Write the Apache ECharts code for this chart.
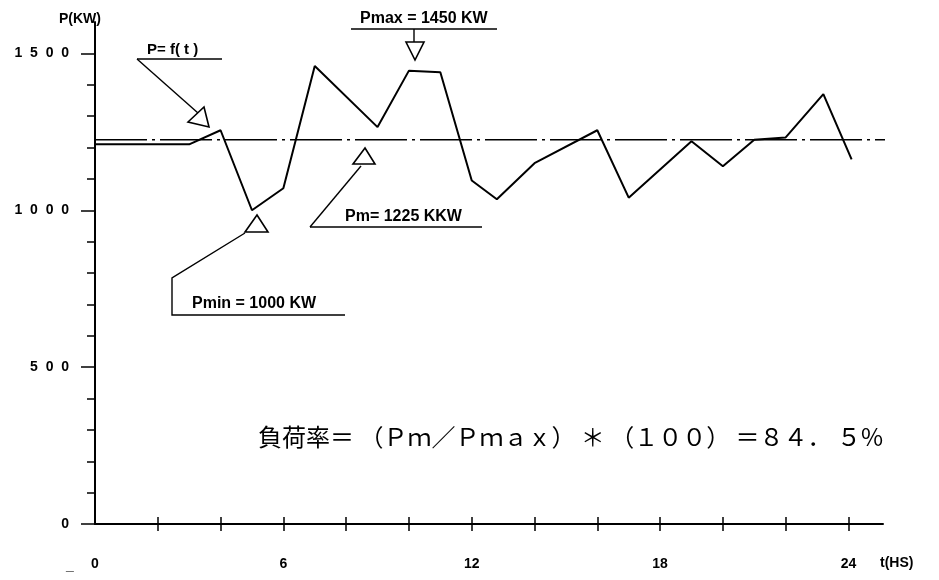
<!DOCTYPE html>
<html><head><meta charset="utf-8">
<script src="https://cdn.jsdelivr.net/npm/echarts@6/dist/echarts.min.js"></script>
<style>html,body{margin:0;padding:0;background:#fff}#c{width:939px;height:580px}</style>
</head><body><div id="c"></div>
<script>
// ---- data ----
const hours  = [0, 3, 4, 5, 6, 7, 9, 10, 11, 12, 12.8, 14, 16, 17, 19, 20, 21, 22, 23.2, 24.1];
const loadKW = [1210, 1210, 1255, 1000, 1070, 1460, 1265, 1445, 1440, 1095, 1035, 1150, 1255, 1040, 1220, 1140, 1225, 1232, 1370, 1162];
const meanKW = 1225;
const meanLineHours = [0, 25.8];
const xTickValues = [2, 4, 6, 8, 10, 12, 14, 16, 18, 20, 22, 24];
const xLabelValues = [0, 6, 12, 18, 24];
const yMinorTickValues = [100, 200, 300, 400, 600, 700, 800, 900, 1100, 1200, 1300, 1400];
const yLabelValues = [0, 500, 1000, 1500];
const labelPfT = 'P= f( t )';
const labelPmax = 'Pmax = 1450 KW';
const labelPm = 'Pm= 1225 KKW';
const labelPmin = 'Pmin = 1000 KW';
const formulaText = '負荷率＝ （Ｐｍ／Ｐｍａｘ） ＊ （１００） ＝８４． ５%';
const xName = 't(HS)';
const yName = 'P(KW)';

const chart = echarts.init(document.getElementById('c'), null, {renderer: 'canvas'});
const FONT = "'Liberation Sans', Arial, sans-serif";
const black = '#000';
const xMax = 25.1, yMax = 1600;

const baseX = {
  type: 'value', min: 0, max: xMax, position: 'bottom',
  splitLine: {show: false}
};
const baseY = {
  type: 'value', min: 0, max: yMax, position: 'left',
  splitLine: {show: false}
};

const option = {
  backgroundColor: '#fff',
  animation: false,
  grid: {left: 95, right: 56, top: 22, bottom: 56},
  xAxis: [
    Object.assign({}, baseX, {
      axisLine: {show: true, onZero: false, lineStyle: {color: black, width: 2}},
      axisTick: {show: true, customValues: xTickValues, length: 7, lineStyle: {color: black, width: 1.5}},
      axisLabel: {show: true, customValues: xLabelValues, margin: 33, color: black,
        fontFamily: FONT, fontSize: 14, fontWeight: 'bold'}
    }),
    Object.assign({}, baseX, {
      axisLine: {show: false, onZero: false},
      axisTick: {show: true, inside: true, customValues: xTickValues, length: 7, lineStyle: {color: black, width: 1.5}},
      axisLabel: {show: false}
    })
  ],
  yAxis: [
    Object.assign({}, baseY, {
      name: yName, nameLocation: 'end', nameGap: 3,
      nameTextStyle: {color: black, fontFamily: FONT, fontSize: 14, fontWeight: 'bold', align: 'right', verticalAlign: 'middle', padding: [0, -6, 0, 0]},
      axisLine: {show: true, lineStyle: {color: black, width: 2}},
      axisTick: {show: true, customValues: yMinorTickValues, length: 8, lineStyle: {color: black, width: 1.5}},
      axisLabel: {show: false}
    }),
    Object.assign({}, baseY, {
      axisLine: {show: false},
      axisTick: {show: true, customValues: yLabelValues, length: 14, lineStyle: {color: black, width: 1.5}},
      axisLabel: {show: true, customValues: yLabelValues, margin: 26, color: black,
        fontFamily: FONT, fontSize: 14, fontWeight: 'bold',
        formatter: v => String(v).split('').join('  ')}
    })
  ],
  series: [
    {
      type: 'line', name: 'P = f(t)', xAxisIndex: 0, yAxisIndex: 0,
      data: hours.map((h, i) => [h, loadKW[i]]),
      symbol: 'none', lineStyle: {color: black, width: 2}, z: 3
    },
    {
      type: 'line', name: 'Pm', xAxisIndex: 0, yAxisIndex: 0, clip: false,
      data: meanLineHours.map(h => [h, meanKW]),
      symbol: 'none', lineStyle: {color: black, width: 1.5, type: [52, 5, 3, 5]}, z: 2
    }
  ],
  graphic: []
};
chart.setOption(option);

// ---- annotations (callouts) ----
const tri = (pts) => ({type: 'polygon', shape: {points: pts}, style: {fill: 'none', stroke: black, lineWidth: 1.6}, z: 10});
const pl = (pts) => ({type: 'polyline', shape: {points: pts}, style: {fill: null, stroke: black, lineWidth: 1.4}, z: 10});
const txt = (x, y, t, size, extra) => ({type: 'text', x: x, y: y,
  style: Object.assign({text: t, fill: black, font: 'bold ' + size + 'px ' + FONT, verticalAlign: 'middle', align: 'left'}, extra || {}), z: 10});

chart.setOption({graphic: [
  // P = f(t)
  txt(147, 50, labelPfT, 15),
  pl([[137, 59], [222, 59]]),
  pl([[137, 59], [198, 113]]),
  tri([[188, 122], [204, 107], [209, 127]]),
  // Pmax
  txt(360, 19, labelPmax, 16),
  pl([[351, 29], [497, 29]]),
  pl([[414, 29], [414, 42]]),
  tri([[406, 42], [424, 42], [415, 60]]),
  // Pm
  txt(345, 217, labelPm, 16),
  pl([[310, 227], [482, 227]]),
  pl([[310, 227], [361, 166]]),
  tri([[365, 148], [353, 164], [375, 164]]),
  // Pmin
  txt(192, 304, labelPmin, 16),
  pl([[245, 233], [172, 278], [172, 315], [345, 315]]),
  tri([[257, 215], [245, 232], [268, 232]]),
  // formula
  {type: 'text', x: 258, y: 437, z: 10,
   style: {text: formulaText, fill: black, font: '24px "Noto Sans CJK JP"', verticalAlign: 'middle', align: 'left'}},
  // axis extras
  txt(880, 563, xName, 14),
  txt(66, 566, '_', 14)
]});
</script>
</body></html>
